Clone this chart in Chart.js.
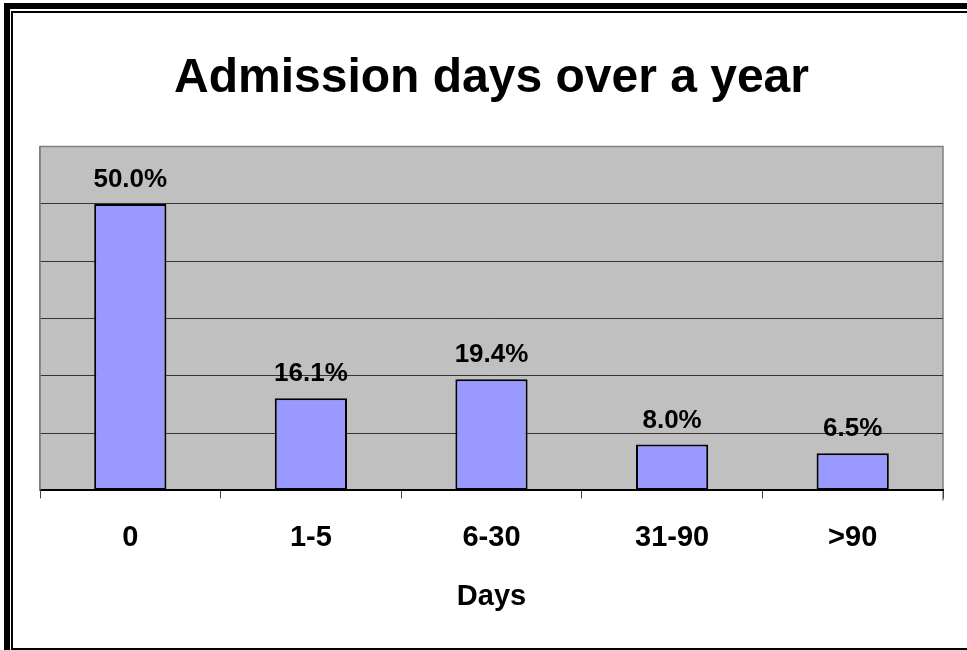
<!DOCTYPE html>
<html>
<head>
<meta charset="utf-8">
<script src="https://cdn.jsdelivr.net/npm/chart.js@4/dist/chart.umd.min.js"></script>
<style>
  html, body { margin: 0; padding: 0; background: #fff; }
  #wrap { position: relative; width: 967px; height: 650px; }
</style>
</head>
<body>
<div id="wrap"><canvas id="myChart" width="967" height="650"></canvas></div>
<script>
const categories = ['0', '1-5', '6-30', '31-90', '>90'];
const shares = [50.0, 16.1, 19.4, 8.0, 6.5];
const titleText = 'Admission days over a year';
const axisTitle = 'Days';

const FONT = "'Liberation Sans', Arial, sans-serif";

// page frame: thick black band on the left/top, thin line inside it
const framePlugin = {
    id: 'frame',
    beforeDraw(chart) {
        const ctx = chart.ctx;
        ctx.save();
        ctx.fillStyle = '#fff';
        ctx.fillRect(0, 0, chart.width, chart.height);
        ctx.fillStyle = '#000';
        ctx.fillRect(4, 3, 6, chart.height - 3);
        ctx.fillRect(4, 3, chart.width - 4, 6);
        ctx.fillRect(11, 11, 2, chart.height - 11);
        ctx.fillRect(11, 11, chart.width - 11, 2);
        ctx.fillRect(11, chart.height - 2, chart.width - 11, 2);
        ctx.restore();
    }
};

// grey plot area with a grey outline
const plotAreaPlugin = {
    id: 'plotArea',
    beforeDraw(chart) {
        const a = chart.chartArea;
        const ctx = chart.ctx;
        ctx.save();
        ctx.fillStyle = '#C0C0C0';
        ctx.fillRect(a.left, a.top, a.right - a.left, a.bottom - a.top);
        ctx.strokeStyle = '#808080';
        ctx.lineWidth = 1.5;
        ctx.beginPath();
        ctx.moveTo(a.left, a.bottom);
        ctx.lineTo(a.left, a.top);
        ctx.lineTo(a.right, a.top);
        ctx.lineTo(a.right, a.bottom + 10);
        ctx.stroke();
        ctx.restore();
    }
};

// percentage above each bar
const valueLabels = {
    id: 'valueLabels',
    afterDatasetsDraw(chart) {
        const ctx = chart.ctx;
        const meta = chart.getDatasetMeta(0);
        ctx.save();
        ctx.font = 'bold 26px ' + FONT;
        ctx.fillStyle = '#000';
        ctx.textAlign = 'center';
        ctx.textBaseline = 'alphabetic';
        meta.data.forEach(function (bar, i) {
            ctx.fillText(shares[i].toFixed(1) + '%', bar.x, bar.y - 17);
        });
        ctx.restore();
    }
};

const data = {
    labels: categories,
    datasets: [{
        label: 'share',
        data: shares,
        backgroundColor: '#9999FF',
        borderColor: '#000',
        borderWidth: 2,
        borderSkipped: false,
        barPercentage: 0.4,
        categoryPercentage: 1.0
    }]
};

const config = {
    type: 'bar',
    data: data,
    plugins: [framePlugin, plotAreaPlugin, valueLabels],
    options: {
        responsive: false,
        animation: false,
        layout: { padding: { top: 16, left: 40, right: 24, bottom: 32 } },
        plugins: {
            legend: { display: false },
            tooltip: { enabled: false },
            title: {
                display: true,
                text: titleText,
                color: '#000',
                font: { family: FONT, size: 48, weight: 'bold' },
                padding: { top: 34, bottom: 39 }
            }
        },
        scales: {
            x: {
                grid: {
                    drawOnChartArea: false,
                    drawTicks: true,
                    tickLength: 8,
                    color: '#444',
                    lineWidth: 1
                },
                border: { display: true, color: '#000', width: 2 },
                ticks: {
                    color: '#000',
                    padding: 22,
                    font: { family: FONT, size: 29, weight: 'bold' }
                },
                title: {
                    display: true,
                    text: axisTitle,
                    color: '#000',
                    font: { family: FONT, size: 29, weight: 'bold' },
                    padding: { top: 2, bottom: 4 }
                }
            },
            y: {
                min: 0,
                max: 60,
                ticks: { display: false, stepSize: 10 },
                grid: {
                    drawTicks: false,
                    color: function (c) {
                        if (c.tick.value === 0) return 'rgba(0,0,0,0)';
                        if (c.tick.value === 60) return '#808080';
                        return '#333';
                    },
                    lineWidth: 1
                },
                border: { display: true, color: '#808080', width: 1.5 }
            }
        }
    }
};

let myChart = new Chart(document.getElementById('myChart'), config);
</script>
</body>
</html>
